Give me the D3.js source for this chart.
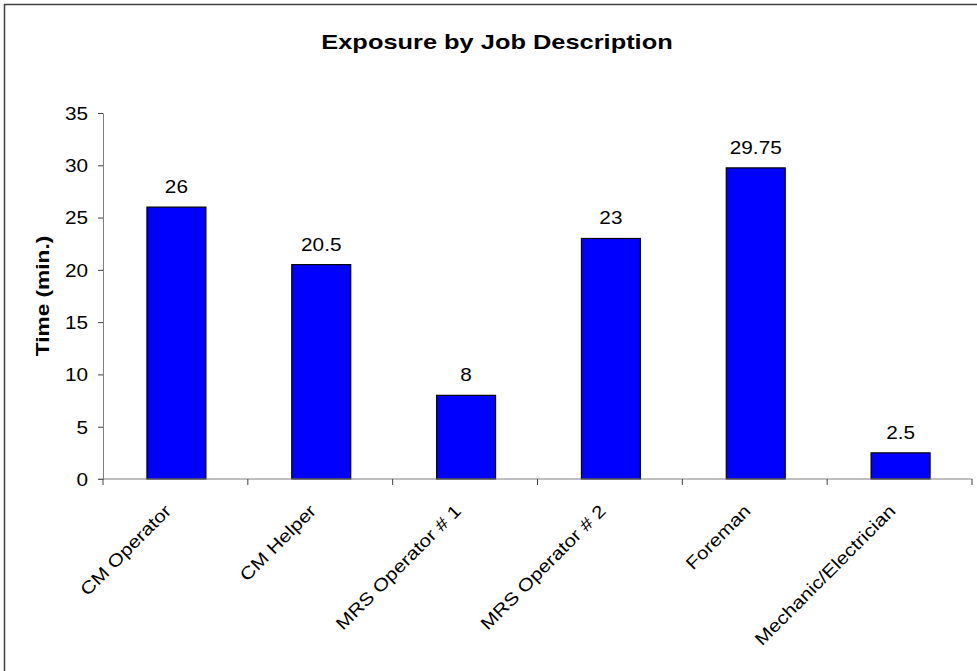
<!DOCTYPE html>
<html>
<head>
<meta charset="utf-8">
<script src="https://cdn.jsdelivr.net/npm/d3@7"></script>
<style>
  body { margin: 0; background: #fff; }
  text { font-family: Arial, "Liberation Sans", sans-serif; fill: #000; }
</style>
</head>
<body>
<div id="chart"></div>
<script>
const jobs = ["CM Operator", "CM Helper", "MRS Operator # 1", "MRS Operator # 2", "Foreman", "Mechanic/Electrician"];
const minutes = [26, 20.5, 8, 23, 29.75, 2.5];
const yTicks = [0, 5, 10, 15, 20, 25, 30, 35];

const width = 977, height = 671;
const margin = {top: 113, right: 5, bottom: 192, left: 103};

// the reference text is drawn wider than plain Arial, so stretch along the baseline
const stretch = 1.18;

const svg = d3.select("#chart").append("svg")
    .attr("width", width)
    .attr("height", height);

// outer frame, runs off the right and bottom edges
svg.append("rect")
    .attr("x", 4.5).attr("y", 4.5)
    .attr("width", width + 10).attr("height", height + 10)
    .attr("fill", "none")
    .attr("stroke", "#404040")
    .attr("stroke-width", 1.5);

svg.append("text")
    .attr("transform", "translate(497,49) scale(1.21,1)")
    .attr("text-anchor", "middle")
    .style("font-size", "21px")
    .style("font-weight", "bold")
    .text("Exposure by Job Description");

const x = d3.scaleBand()
    .domain(jobs)
    .range([margin.left, width - margin.right])
    .padding(0);

const y = d3.scaleLinear()
    .domain([0, 35])
    .range([height - margin.bottom, margin.top]);

const barW = x.bandwidth() * 0.407;
const mid = d => x(d) + x.bandwidth() / 2 + 1;

svg.selectAll("rect.bar")
    .data(jobs)
    .enter()
    .append("rect")
    .attr("class", "bar")
    .attr("x", d => mid(d) - barW / 2)
    .attr("y", (d, i) => y(minutes[i]))
    .attr("width", barW)
    .attr("height", (d, i) => y(0) - y(minutes[i]))
    .attr("fill", "#0000ff")
    .attr("stroke", "#000")
    .attr("stroke-width", 1.2);

svg.selectAll("text.val")
    .data(jobs)
    .enter()
    .append("text")
    .attr("class", "val")
    .attr("transform", (d, i) => `translate(${mid(d)},${y(minutes[i]) - 14}) scale(${stretch},1)`)
    .attr("text-anchor", "middle")
    .style("font-size", "17.6px")
    .text((d, i) => minutes[i]);

// y axis
const yAxis = svg.append("g")
    .attr("transform", `translate(${margin.left},0)`)
    .call(d3.axisLeft(y).tickValues(yTicks).tickSize(5).tickSizeOuter(0).tickPadding(0));
yAxis.select(".domain").attr("stroke", "#808080");
yAxis.selectAll(".tick line").attr("stroke", "#404040");
yAxis.selectAll(".tick text").remove();
yAxis.selectAll(".tick").append("text")
    .attr("transform", `translate(-15,0) scale(${stretch},1)`)
    .attr("dy", "0.36em")
    .attr("text-anchor", "end")
    .style("font-size", "17.6px")
    .style("font-family", "Arial, 'Liberation Sans', sans-serif")
    .text(d => d);

// x axis: ticks at category boundaries
const bounds = jobs.map(d => x(d)).concat([x(jobs[jobs.length - 1]) + x.bandwidth()]);
svg.append("line")
    .attr("x1", margin.left - 5).attr("x2", width - margin.right)
    .attr("y1", y(0)).attr("y2", y(0))
    .attr("stroke", "#808080");
svg.selectAll("line.xtick")
    .data(bounds)
    .enter()
    .append("line")
    .attr("class", "xtick")
    .attr("x1", d => d).attr("x2", d => d)
    .attr("y1", y(0)).attr("y2", y(0) + 6)
    .attr("stroke", "#404040");

svg.selectAll("text.xlab")
    .data(jobs)
    .enter()
    .append("text")
    .attr("class", "xlab")
    .attr("text-anchor", "end")
    .attr("transform", d => `translate(${mid(d) - 4},${y(0) + 33}) rotate(-45) scale(${stretch},1)`)
    .style("font-size", "17.6px")
    .text(d => d);

svg.append("text")
    .attr("transform", `translate(49,${(y(0) + y(35)) / 2}) rotate(-90) scale(1.26,1)`)
    .attr("text-anchor", "middle")
    .style("font-size", "18px")
    .style("font-weight", "bold")
    .text("Time (min.)");
</script>
</body>
</html>
